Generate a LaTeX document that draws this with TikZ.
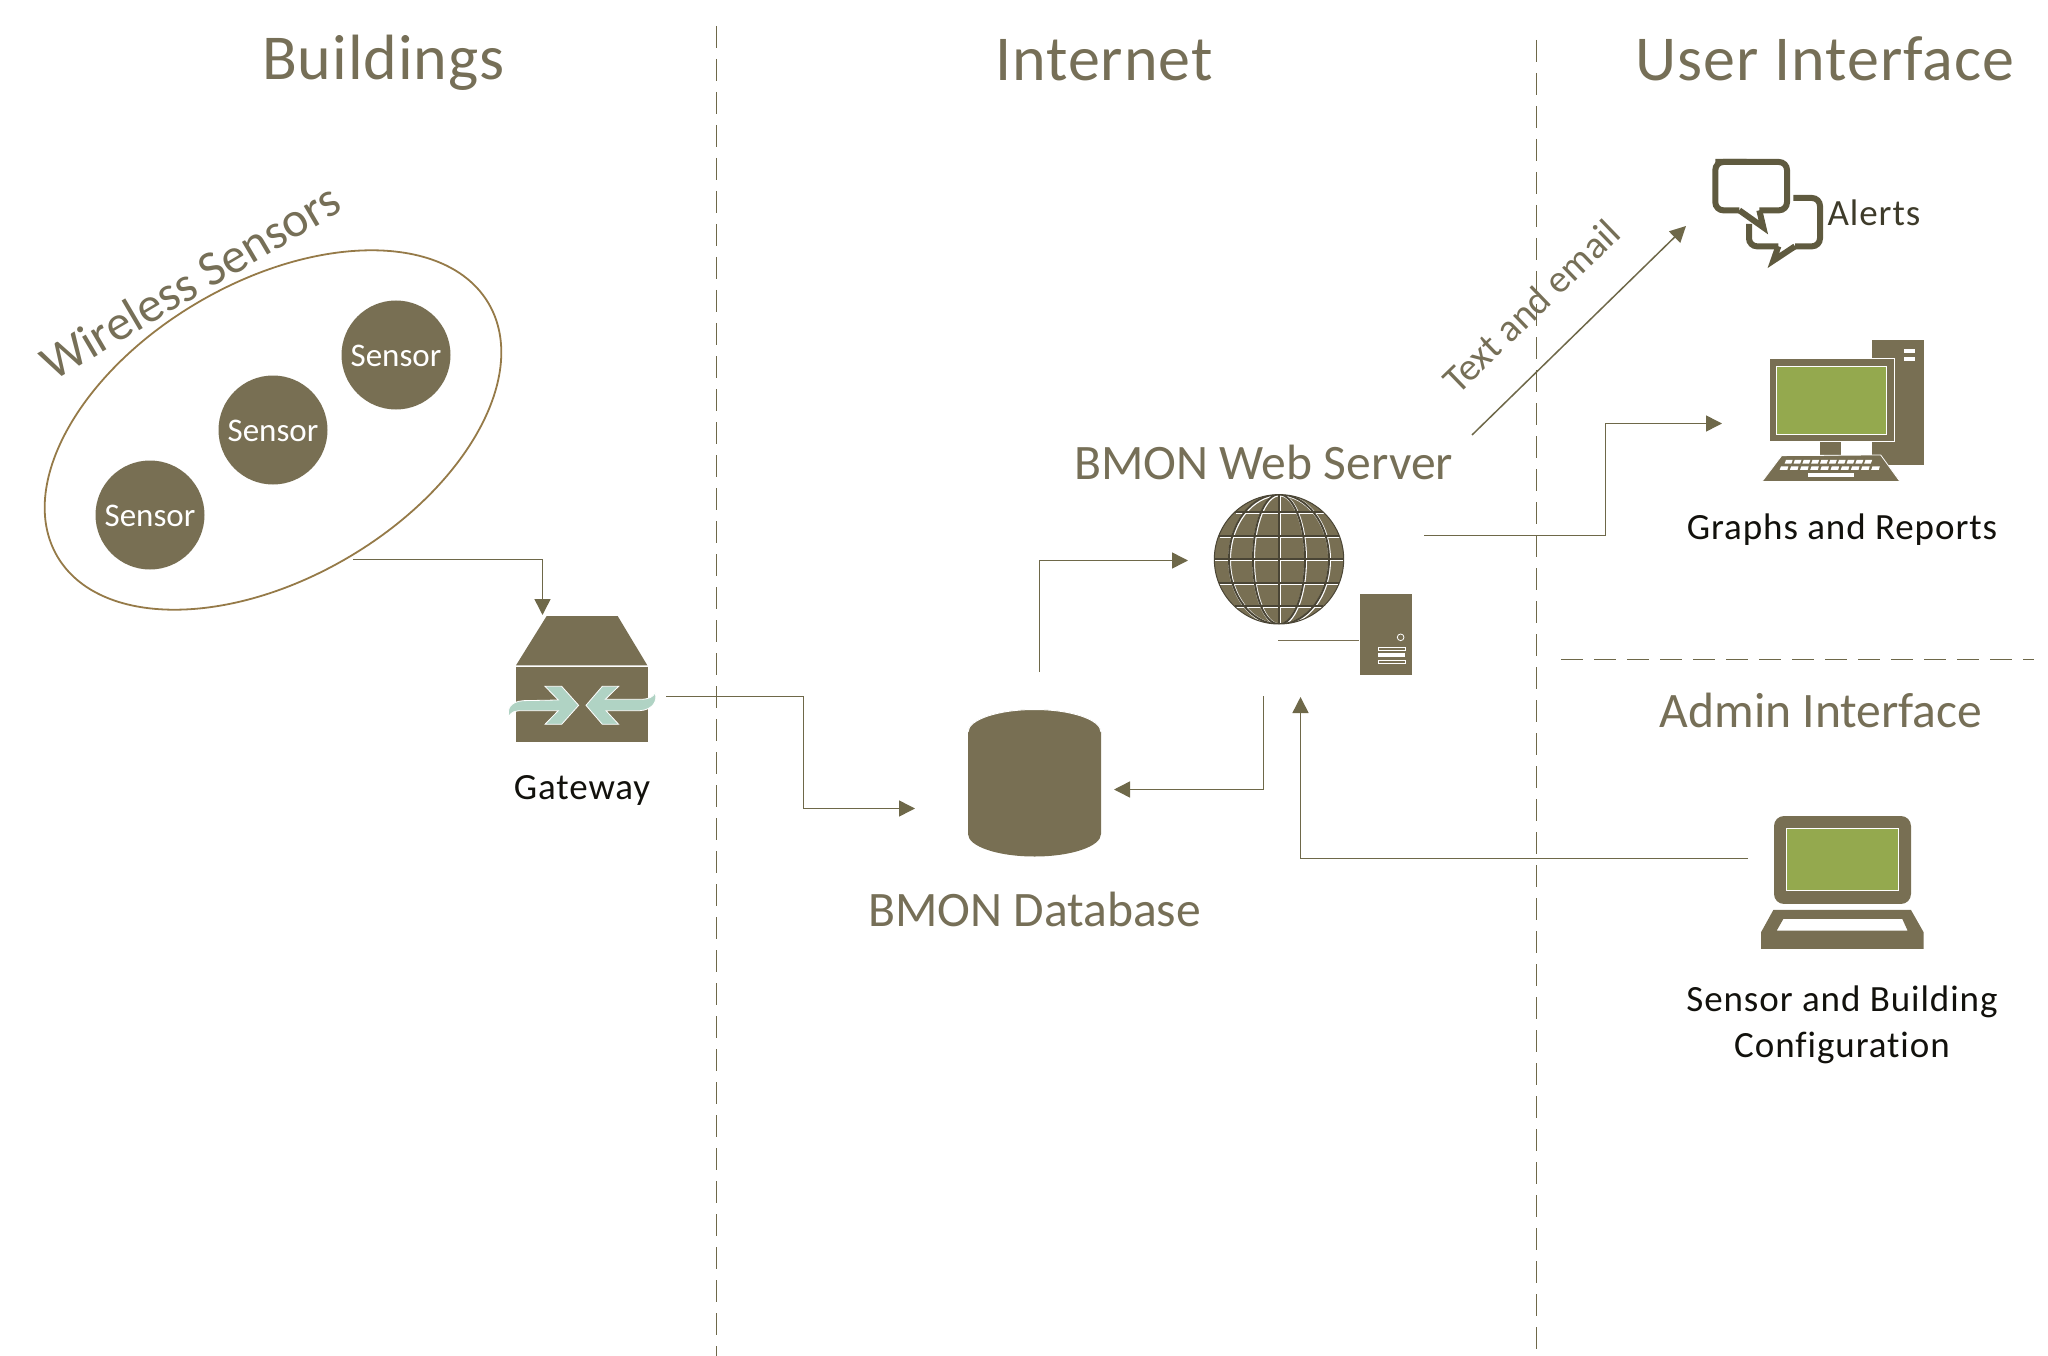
\documentclass[tikz,border=0pt]{standalone}
\usepackage{fontspec}
\setmainfont{Carlito}
\newfontfamily\labfont[LetterSpace=2.5,Ligatures=NoCommon]{Carlito}
\newfontfamily\titlefont[LetterSpace=1.5,Ligatures=NoCommon]{Carlito}
\usetikzlibrary{arrows.meta}
\definecolor{olive}{HTML}{786F53}
\definecolor{olivedark}{HTML}{5F5A3F}
\definecolor{lineol}{HTML}{6E6849}
\definecolor{dashol}{HTML}{6E6849}
\definecolor{ringol}{HTML}{957A48}
\definecolor{scr}{HTML}{94A94E}
\definecolor{teal}{HTML}{B0D3C4}
\definecolor{txtol}{HTML}{766F57}
\definecolor{txtdark}{HTML}{3E3B2A}
\definecolor{globeline}{HTML}{4A4535}
\newcommand{\fsz}[1]{\fontsize{#1}{#1}\selectfont}
\tikzset{
  conn/.style={draw=lineol,line width=1.5pt,-{Triangle[length=16pt,width=16pt,fill=lineol]}},
  sep/.style={draw=dashol,line width=1.3pt,dash pattern=on 22pt off 11pt},
  title/.style={text=txtol,font=\titlefont\fsz{64},inner sep=0pt,anchor=base},
  sub/.style={text=txtol,font=\fsz{49.6},inner sep=0pt,anchor=center},
  lab/.style={text=black!85!olive,font=\labfont\fsz{37},inner sep=0pt,anchor=base},
  sensor/.style={circle,fill=olive,minimum size=109pt,inner sep=0pt,text=white,font=\fsz{33}},
  globew/.style={draw=white,line width=2.8pt},
  globed/.style={draw=globeline,line width=1.9pt}
}
\begin{document}
\begin{tikzpicture}[x=1pt,y=-1pt]
\useasboundingbox (0,0) rectangle (2048,1356);
% separators
\coordinate (s1a) at (716.5,26); \coordinate (s1b) at (716.5,1356);
\coordinate (s2a) at (1536.5,37); \coordinate (s2b) at (1536.5,1352);
\coordinate (s3a) at (1561,659.5); \coordinate (s3b) at (2034,659.5);
\draw[sep] (s1a) -- (s1b);
\draw[sep,dash phase=30pt] (s2a) -- (s2b);
\draw[sep] (s3a) -- (s3b);
% titles
\node[title] (tBuild) at (383.5,80) {Buildings};
\node[title] (tNet) at (1104,81) {Internet};
\node[title] (tUI) at (1825,81) {User Interface};
\node[sub] (tAdmin) at (1821,710.5) {Admin Interface};
\node[sub] (tDB) at (1034.5,909) {BMON Database};
\node[sub] (tWeb) at (1263.5,462) {BMON Web Server};
\node[sub,rotate=30.5] (tWire) at (190,281) {Wireless Sensors};
\node[sub,rotate=44,font=\fsz{39}] (tText) at (1531,306) {Text and email};
% ellipse and sensors
\draw[ringol,line width=1.8pt,rotate around={30.4:(273,430)}] (273,430) ellipse [x radius=250,y radius=148];
\node[sensor] (s1) at (396,355) {};
\node[sensor] (s2) at (273,430) {};
\node[sensor] (s3) at (150,515) {};
\node[text=white,font=\fsz{33},inner sep=0pt] (t1) at (396,356) {Sensor};
\node[text=white,font=\fsz{33},inner sep=0pt] (t2) at (273,431) {Sensor};
\node[text=white,font=\fsz{33},inner sep=0pt] (t3) at (150,516) {Sensor};
% gateway
\begin{scope}[shift={(480,590)},x=0.3333pt,y=-0.3333pt]
\fill[olive] (200,78) -- (413,78) -- (502,226) -- (108,226) -- cycle;
\fill[olive] (108,230) rectangle (505,455);
\path[fill=teal,draw=white,line width=0.8pt] (296,346) -- (245,403) -- (195,403) -- (235,362) -- (130,362) .. controls (105,362) and (92,365) .. (88,380) .. controls (80,360) and (88,335) .. (130,332) -- (235,330) -- (195,289) -- (245,289) -- cycle;
\path[fill=teal,draw=white,line width=0.8pt] (318,346) -- (367,289) -- (416,289) -- (376,328) -- (480,328) .. controls (505,328) and (520,322) .. (525,308) .. controls (535,335) and (515,360) .. (480,362) -- (378,362) -- (416,403) -- (367,403) -- cycle;
\end{scope}
\node[lab] (lGate) at (582,799) {Gateway};
% database
\fill[olive] (968,732) arc[start angle=180,end angle=360,x radius=66.5,y radius=22.5] -- (1101,834) arc[start angle=0,end angle=180,x radius=66.5,y radius=22.5] -- cycle;
\fill[olive] (1034.5,732) ellipse [x radius=66.5,y radius=22.5];
\draw[white,line width=1pt] (968,732) arc[start angle=180,end angle=360,x radius=66.5,y radius=22.5];
% globe
\fill[olive] (1279,559.3) circle (64.7);
\begin{scope}
\clip (1279,559.3) circle (64.7);
\foreach \sty/\dx in {globew/0.6,globed/0}{
  \begin{scope}[shift={(\dx,\dx)}]
  \foreach \o/\hw in {-47/44,-23.5/60,0/65,23.5/60,47/44}{\draw[\sty] ({1279-\hw},{559.3+\o}) -- ({1279+\hw},{559.3+\o});}
  \draw[\sty] (1279,490) -- (1279,630);
  \foreach \r in {26,50}{\draw[\sty] (1279,559.3) ellipse [x radius=\r,y radius=65];}
  \end{scope}
}
\end{scope}
\draw[globeline,line width=1pt] (1279,559.3) circle (64.7);
% server
\begin{scope}[shift={(1150,420)},x=0.3333pt,y=-0.3333pt]
\fill[olive] (630,522) rectangle (785,765);
\draw[white,line width=0.8pt] (752,652) circle (10);
\draw[white,line width=0.8pt] (685,681) rectangle (765,690);
\fill[white] (685,698) rectangle (765,711);
\draw[white,line width=0.8pt] (685,720) rectangle (765,729);
\coordinate (srvL) at (384,661); \coordinate (srvR) at (627,661);
\draw[olive,line width=1.2pt] (srvL) -- (srvR);
\end{scope}
% bubbles
\begin{scope}[shift={(1680,130)},x=0.3333pt,y=-0.3333pt]
\draw[olivedark,line width=6pt,rounded corners=8pt,line join=miter] (106,96) -- (321,96) -- (321,241) -- (238,241);
\draw[olivedark,line width=6pt,rounded corners=8pt] (178,241) -- (106,241) -- (106,96) -- (200,96);
\draw[olivedark,line width=6pt,line join=miter,miter limit=10] (238,241) -- (250,292) -- (178,241);
\draw[olivedark,line width=6pt,rounded corners=8pt] (340,204) -- (420,204) -- (420,349) -- (345,349);
\draw[olivedark,line width=6pt,line join=miter,miter limit=10] (345,349) -- (280,392) -- (295,349);
\draw[olivedark,line width=6pt,rounded corners=8pt] (295,349) -- (207,349) -- (207,282);
% computer
\fill[olive] (577,630) rectangle (732,1004);
\fill[white] (672,657) rectangle (705,668);
\fill[white] (672,680) rectangle (705,692);
\path[fill=olive,draw=white,line width=0.8pt] (267,684) rectangle (643,935);
\path[fill=scr,draw=white,line width=0.8pt] (290,708) rectangle (619,912);
\fill[olive] (420,937) rectangle (483,975);
\path[fill=olive,draw=white,line width=0.8pt] (305,977) -- (602,975) -- (660,1055) -- (246,1055) -- cycle;
\foreach \i in {0,...,9}{
  \fill[white] ({318+\i*26.5},990) -- ({338+\i*26.5},990) -- ({334+\i*26.5},1001) -- ({314+\i*26.5},1001) -- cycle;
  \fill[white] ({303+\i*30.5},1009) -- ({325+\i*30.5},1009) -- ({322+\i*30.5},1020) -- ({299+\i*30.5},1020) -- cycle;
}
\fill[white] (384,1030) rectangle (522,1041);
\end{scope}
\node[font=\labfont\fsz{37},text=txtdark,inner sep=0pt,anchor=base] (lAlert) at (1874,226) {Alerts};
\node[lab] (lGraph) at (1842,539) {Graphs and Reports};
% laptop
\begin{scope}[shift={(1720,790)},x=0.3333pt,y=-0.3333pt]
\fill[olive,rounded corners=10pt] (162,78) -- (573,78) -- (573,342) -- (162,342) -- cycle;
\path[fill=scr,draw=white,line width=0.8pt] (200,116) rectangle (535,300);
\fill[olive,even odd rule] (160,360) -- (573,360) -- (611,427) -- (611,477) -- (123,477) -- (123,427) -- cycle (190,387) -- (547,387) -- (563,422) -- (170,422) -- cycle;
\end{scope}
\node[lab] (lCfg1) at (1842,1011.5) {Sensor and Building};
\node[lab] (lCfg2) at (1842,1057) {Configuration};
% connectors
\coordinate (a1) at (353,559.5); \coordinate (a2) at (542.5,615);
\draw[conn] (a1) -| (a2);
\coordinate (b1) at (666,696.5); \coordinate (b2) at (803.5,696.5); \coordinate (b3) at (803.5,808.5); \coordinate (b4) at (915,808.5);
\draw[conn] (b1) -- (b2) -- (b3) -- (b4);
\coordinate (c1) at (1039.5,672); \coordinate (c2) at (1188,560.5);
\draw[conn] (c1) |- (c2);
\coordinate (d1) at (1263.5,696); \coordinate (d2) at (1114,789.5);
\draw[conn] (d1) |- (d2);
\coordinate (e1) at (1748,858.5); \coordinate (e2) at (1300.5,697);
\draw[conn] (e1) -| (e2);
\coordinate (f1) at (1472,435); \coordinate (f2) at (1686,226);
\draw[conn] (f1) -- (f2);
\coordinate (g1) at (1424,535.5); \coordinate (g2) at (1605.5,535.5); \coordinate (g3) at (1605.5,423.5); \coordinate (g4) at (1722,423.5);
\draw[conn] (g1) -- (g2) -- (g3) -- (g4);
\end{tikzpicture}
\end{document}
